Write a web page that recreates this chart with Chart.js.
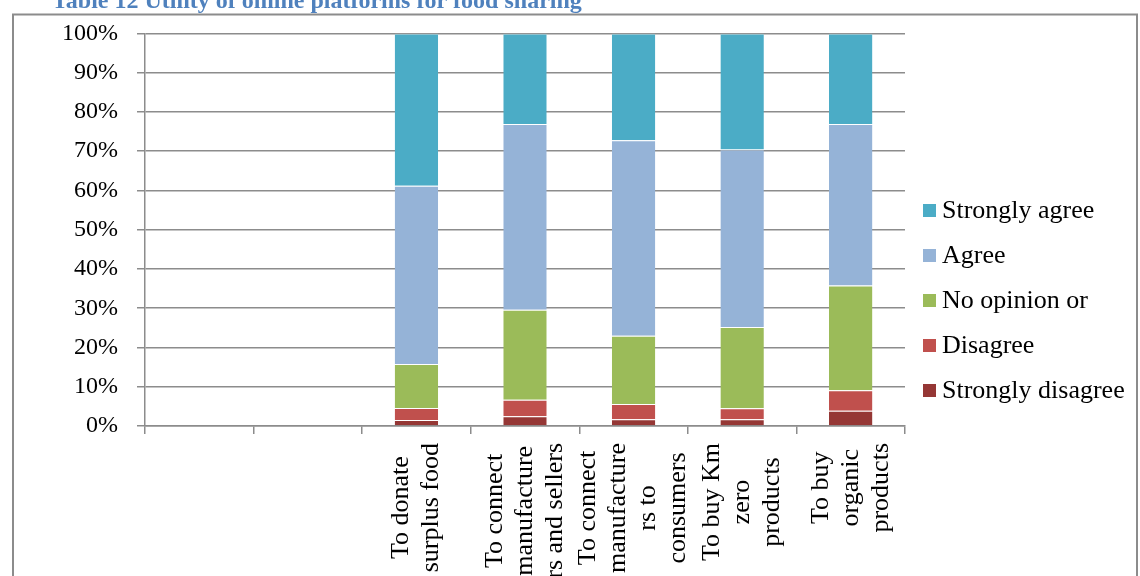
<!DOCTYPE html>
<html>
<head>
<meta charset="utf-8">
<script src="https://cdn.jsdelivr.net/npm/chart.js@4/dist/chart.umd.min.js"></script>
<style>
    html, body { margin: 0; padding: 0; background: #fff; }
    #wrap { width: 1140px; height: 576px; }
</style>
</head>
<body>
<div id="wrap"><canvas id="chart"></canvas></div>
<script>
// Chart data
const categories = [
    [''],
    [''],
    ['To donate', 'surplus food'],
    ['To connect', 'manufacture', 'rs and sellers'],
    ['To connect', 'manufacture', 'rs to', 'consumers'],
    ['To buy Km', 'zero', 'products'],
    ['To buy', 'organic', 'products']
];
const stronglyDisagree = [null, null, 1.5, 2.5, 1.7, 1.7, 3.9];
const disagree         = [null, null, 3.1, 4.2, 3.9, 2.8, 5.2];
const noOpinion        = [null, null, 11.2, 22.9, 17.4, 20.7, 26.7];
const agree            = [null, null, 45.4, 47.3, 49.8, 45.2, 41.1];
const stronglyAgree    = [null, null, 38.8, 23.1, 27.2, 29.6, 23.1];
const yTicks = [0, 10, 20, 30, 40, 50, 60, 70, 80, 90, 100];
const chartTitle = 'Table 12 Utility of online platforms for food sharing';

const SERIF = '"Liberation Serif", "Times New Roman", serif';
const GRID = '#8c8c8c';

/**
 * Frame, title, rotated category labels and legend
 */
const decorPlugin = {
    id: 'decor',
    beforeDraw(chart) {
        const ctx = chart.ctx;
        ctx.save();
        ctx.fillStyle = '#fff';
        ctx.fillRect(0, 0, chart.width, chart.height);
        ctx.strokeStyle = GRID;
        ctx.lineWidth = 2;
        ctx.strokeRect(13, 14.5, 1124, 620);
        ctx.restore();
    },
    afterDraw(chart) {
        const ctx = chart.ctx;
        const xScale = chart.scales.x;
        ctx.save();

        // title (cut off at the top, as in the source)
        ctx.font = 'bold 24px ' + SERIF;
        ctx.fillStyle = '#4f81bd';
        ctx.textAlign = 'left';
        ctx.textBaseline = 'alphabetic';
        ctx.fillText(chartTitle, 52, 8);

        // category labels, rotated, each line centred in its block
        ctx.font = '26px ' + SERIF;
        ctx.fillStyle = '#000';
        ctx.textAlign = 'center';
        ctx.textBaseline = 'middle';
        const top = xScale.top + 17;
        categories.forEach((lines, i) => {
            const cx = xScale.getPixelForValue(i);
            const maxW = Math.max(...lines.map(l => ctx.measureText(l).width));
            lines.forEach((line, j) => {
                const lx = cx + (j - (lines.length - 1) / 2) * 30;
                ctx.save();
                ctx.translate(lx, top + maxW / 2);
                ctx.rotate(-Math.PI / 2);
                ctx.fillText(line, 0, 0);
                ctx.restore();
            });
        });

        // legend, reversed order
        ctx.textAlign = 'left';
        const sets = chart.data.datasets.slice().reverse();
        sets.forEach((ds, k) => {
            const y = 211 + k * 45;
            ctx.fillStyle = ds.backgroundColor;
            ctx.fillRect(923, y - 7, 13, 13);
            ctx.fillStyle = '#000';
            ctx.fillText(ds.label, 942, y);
        });
        ctx.restore();
    }
};

function makeSet(label, data, color) {
    return {
        label: label,
        data: data,
        backgroundColor: color,
        borderColor: 'rgba(255,255,255,0.55)',
        borderWidth: { top: 1, left: 0, right: 0, bottom: 0 },
        borderSkipped: false,
        categoryPercentage: 1,
        barPercentage: 0.4
    };
}

new Chart(document.getElementById('chart'), {
    type: 'bar',
    data: {
        labels: categories.map(l => l.join(' ')),
        datasets: [
            makeSet('Strongly disagree', stronglyDisagree, '#953735'),
            makeSet('Disagree', disagree, '#c0504d'),
            makeSet('No opinion or', noOpinion, '#9bbb59'),
            makeSet('Agree', agree, '#95b3d7'),
            makeSet('Strongly agree', stronglyAgree, '#4bacc6')
        ]
    },
    options: {
        responsive: true,
        maintainAspectRatio: false,
        animation: false,
        layout: { padding: { top: 31, right: 235, bottom: 0, left: 0 } },
        plugins: {
            legend: { display: false },
            tooltip: { enabled: false },
            title: { display: false }
        },
        scales: {
            x: {
                stacked: true,
                offset: true,
                grid: {
                    offset: true,
                    drawOnChartArea: false,
                    drawTicks: true,
                    tickLength: 8,
                    color: GRID,
                    lineWidth: 1.5
                },
                border: { display: true, color: GRID, width: 1.5 },
                ticks: { display: false },
                afterFit(scale) { scale.height = 150; }
            },
            y: {
                stacked: true,
                min: 0,
                max: 100,
                afterBuildTicks(scale) {
                    scale.ticks = yTicks.map(v => ({ value: v }));
                },
                grid: {
                    color: GRID,
                    lineWidth: 1.5,
                    tickLength: 8
                },
                border: { display: true, color: GRID, width: 1.5 },
                ticks: {
                    padding: 19,
                    color: '#000',
                    font: { family: SERIF, size: 24 },
                    callback: v => v + '%'
                },
                afterFit(scale) { scale.width = 145; }
            }
        }
    },
    plugins: [decorPlugin]
});
</script>
</body>
</html>
